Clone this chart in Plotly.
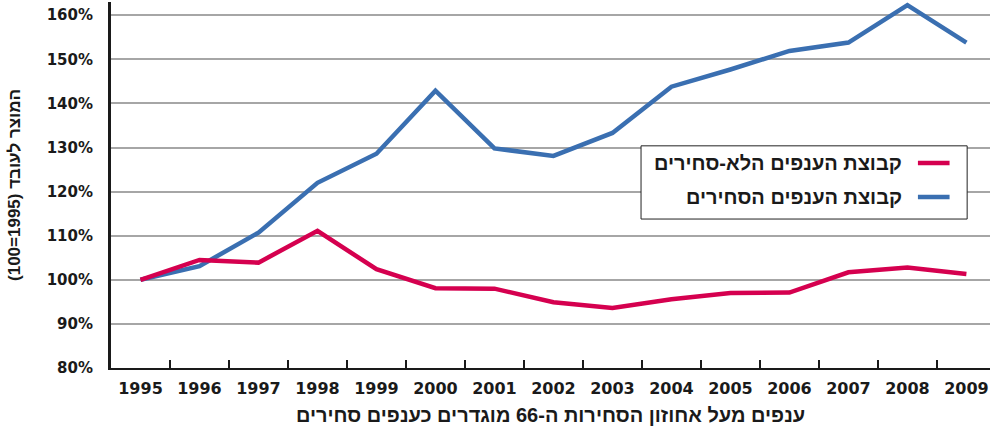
import plotly.graph_objects as go

years = ["1995", "1996", "1997", "1998", "1999", "2000", "2001", "2002",
         "2003", "2004", "2005", "2006", "2007", "2008", "2009"]
tradable = [100.0, 103.1, 110.7, 122.0, 128.6, 142.9, 129.8, 128.1,
            133.3, 143.8, 147.7, 151.9, 153.8, 162.3, 153.8]
non_tradable = [100.0, 104.5, 103.9, 111.1, 102.4, 98.1, 98.0, 94.9,
                93.6, 95.6, 97.0, 97.1, 101.7, 102.8, 101.3]
y_ticks = [80, 90, 100, 110, 120, 130, 140, 150, 160]
y_tick_labels = [f"{v}%" for v in y_ticks]

name_non = "קבוצת הענפים הלא-סחירים"
name_trad = "קבוצת הענפים הסחירים"
y_title = "\u200fהמוצר לעובד (1995=100)\u200f"
x_title = "\u200fענפים מעל אחוזון הסחירות ה-66 מוגדרים כענפים סחירים\u200f"

BLUE = "#3a6fb1"
RED = "#d5004f"
FONT = "Liberation Sans, Arial, sans-serif"
NUMFONT = "DejaVu Sans, Liberation Sans, sans-serif"
TXT = "#1a1a1a"


def bold(size, family=FONT):
    return dict(family=family, size=size, color=TXT, weight="bold")


fig = go.Figure()
fig.add_trace(go.Scatter(x=years, y=tradable, mode="lines", name=name_trad,
                         line=dict(color=BLUE, width=4.5), showlegend=False))
fig.add_trace(go.Scatter(x=years, y=non_tradable, mode="lines", name=name_non,
                         line=dict(color=RED, width=4.5), showlegend=False))

# Legend drawn as a box (RTL layout: symbol on the right of the text)
fig.add_shape(type="rect", xref="paper", yref="paper", x0=0.603, x1=0.974,
              y0=0.407, y1=0.607, line=dict(color="#222222", width=1),
              fillcolor="white", layer="above")
for yy, col, txt in [(0.560, RED, name_non), (0.467, BLUE, name_trad)]:
    fig.add_shape(type="line", xref="paper", yref="paper", x0=0.918, x1=0.954,
                  y0=yy, y1=yy, line=dict(color=col, width=4.5), layer="above")
    fig.add_annotation(xref="paper", yref="paper", x=0.902, y=yy, text="\u200f" + txt + "\u200f",
                       showarrow=False, xanchor="right", yanchor="middle",
                       font=bold(20))

fig.update_layout(
    width=990, height=429,
    margin=dict(l=111, r=0, t=2, b=61, autoexpand=False),
    paper_bgcolor="white", plot_bgcolor="white",
    font=bold(16),
    showlegend=False,
)
fig.update_xaxes(
    type="category", range=[-0.5, 14.4], automargin=False,
    showline=True, linecolor=TXT, linewidth=2,
    ticks="inside", tickson="boundaries", ticklen=8, tickwidth=2, tickcolor=TXT,
    showgrid=False, ticklabelstandoff=5,
    tickfont=bold(16, NUMFONT),
    title=dict(text=x_title, font=bold(20), standoff=11),
)
fig.update_yaxes(
    range=[80, 163], tickvals=y_ticks, ticktext=y_tick_labels, automargin=False,
    showline=True, linecolor=TXT, linewidth=3,
    showgrid=True, gridcolor="#a6a6a6", gridwidth=1.5, zeroline=False,
    ticks="", ticklabelstandoff=12,
    tickfont=bold(15, NUMFONT),
    title=dict(text=y_title, font=bold(17), standoff=22),
)

fig.write_html("out.html", config={"displayModeBar": False},
               post_script="document.body.style.margin='0px';")
